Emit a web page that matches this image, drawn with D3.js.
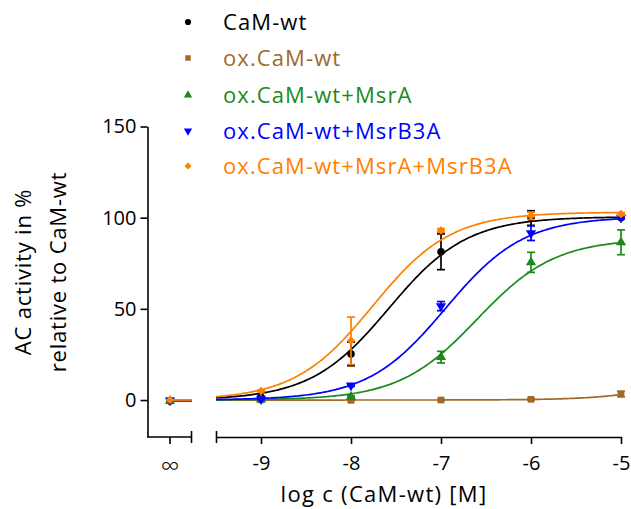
<!DOCTYPE html>
<html><head><meta charset="utf-8">
<script src="https://cdn.jsdelivr.net/npm/d3@7"></script>
<style>
body{margin:0;background:#fff;}
svg text{font-family:"Open Sans",sans-serif;}
</style></head>
<body><svg id="c" width="631" height="509"></svg>
<script>
// ---- data ----
const logConc = [-9, -8, -7, -6, -5];
const xTickLabels = ["-9", "-8", "-7", "-6", "-5"];
const yTicks = [0, 50, 100, 150];
const seriesNames = ["CaM-wt", "ox.CaM-wt", "ox.CaM-wt+MsrA", "ox.CaM-wt+MsrB3A", "ox.CaM-wt+MsrA+MsrB3A"];
const seriesColors = ["#000000", "#a0692a", "#1a8a1a", "#0000ff", "#ff8000"];
const seriesSymbols = ["circle", "square", "triangle", "triangleDown", "diamond"];
// values at log c = -9..-5
const camWt        = [1.5, 25.3, 81.3, 99.8, 100];
const camWtErr     = [0.5, 6.5, 9.8, 4.0, 0.5];
const oxCamWt      = [0.1, -0.2, 0.0, 0.4, 3.3];
const oxCamWtErr   = [0.3, 0.3, 0.3, 0.5, 1.5];
const oxMsrA       = [0.2, 1.8, 23.5, 75.5, 86.5];
const oxMsrAErr    = [0.3, 0.5, 3.2, 5.5, 6.8];
const oxMsrB3A     = [0.5, 8.0, 51.5, 91.5, 100];
const oxMsrB3AErr  = [0.3, 0.5, 2.5, 4.0, 0.5];
const oxBoth       = [5.0, 32.5, 93.0, 101.0, 102.0];
const oxBothErr    = [0.5, 13.0, 1.0, 2.0, 0.8];
// value without CaM (log c = -infinity)
const zeroConc     = [-0.5, -0.3, -0.6, -0.2, 0.0];
// fitted sigmoid parameters [bottom, top, logEC50, hill]
const fitParams = [
  [0, 100.5, -7.58, 1.0],
  [0, 100, -3.5, 1.0],
  [0, 88.5, -6.60, 1.0],
  [0, 100.5, -6.95, 1.0],
  [0, 103, -7.76, 1.0]
];
const seriesValues = [camWt, oxCamWt, oxMsrA, oxMsrB3A, oxBoth];
const seriesErrors = [camWtErr, oxCamWtErr, oxMsrAErr, oxMsrB3AErr, oxBothErr];

// ---- chart ----
const svg = d3.select("#c");
const x = d3.scaleLinear().domain([-9.5, -5]).range([216, 621]);
const xInf = 170;
const y = d3.scaleLinear().domain([-20, 150]).range([436.5, 126.5]);
const axisW = 1.6;

// y axis
const yAxis = svg.append("g").attr("transform", "translate(147.5,0)")
  .call(d3.axisLeft(y).tickValues(yTicks).tickSize(7).tickSizeOuter(0));
yAxis.select(".domain").attr("stroke-width", axisW);
yAxis.selectAll(".tick line").attr("stroke-width", axisW);
yAxis.selectAll(".tick text").attr("font-size", 20).attr("fill", "#000").attr("dx", -1);

// x axis, right segment
const xAxis = svg.append("g").attr("transform", "translate(0,437)")
  .call(d3.axisBottom(x).tickValues(logConc).tickFormat((d, i) => xTickLabels[i]).tickSize(7).tickSizeOuter(0));
xAxis.select(".domain").attr("stroke-width", axisW);
xAxis.selectAll(".tick line").attr("stroke-width", axisW);
xAxis.selectAll(".tick text").attr("font-size", 20).attr("fill", "#000").attr("dy", "1.15em");
// x axis, left segment
const gl = svg.append("g").attr("stroke", "#000").attr("stroke-width", axisW);
gl.append("line").attr("x1", 147).attr("x2", 192).attr("y1", 437).attr("y2", 437);
gl.append("line").attr("x1", xInf).attr("x2", xInf).attr("y1", 437).attr("y2", 444);
gl.append("line").attr("x1", 191.5).attr("x2", 191.5).attr("y1", 431).attr("y2", 443);
gl.append("line").attr("x1", 216.5).attr("x2", 216.5).attr("y1", 431).attr("y2", 443);
svg.append("text").attr("x", xInf).attr("y", 475).attr("text-anchor", "middle")
  .attr("font-size", 26).attr("font-weight", 300).text("∞");

// axis titles
svg.append("text").attr("x", 384).attr("y", 502).attr("text-anchor", "middle")
  .attr("font-size", 22).attr("letter-spacing", 1.3).text("log c (CaM-wt) [M]");
const yt = svg.append("text").attr("transform", "translate(0,272) rotate(-90)")
  .attr("text-anchor", "middle").attr("font-size", 22).attr("letter-spacing", 0.8);
yt.append("tspan").attr("x", 0).attr("y", 31).text("AC activity in %");
yt.append("tspan").attr("x", 0).attr("y", 66).text("relative to CaM-wt");

function sym(name, size) {
  const m = {circle: d3.symbolCircle, square: d3.symbolSquare, triangle: d3.symbolTriangle,
             triangleDown: d3.symbolTriangle, diamond: d3.symbolSquare};
  return d3.symbol().type(m[name]).size(size)();
}
function rot(name) {
  return name === "triangleDown" ? " rotate(180)" : name === "diamond" ? " rotate(45)" : "";
}

const curveXs = d3.range(-9.5, -4.999, 0.02);
const line = d3.line().x(d => x(d[0])).y(d => y(d[1])).curve(d3.curveLinear);

seriesNames.forEach((name, si) => {
  const col = seriesColors[si];
  const [b, t, ec, h] = fitParams[si];
  const f = v => b + (t - b) / (1 + Math.pow(10, (ec - v) * h));
  const g = svg.append("g");
  g.append("path").attr("d", line(curveXs.map(v => [v, f(v)])))
    .attr("fill", "none").attr("stroke", col).attr("stroke-width", 1.7);
  // infinity segment line
  g.append("line").attr("x1", xInf - 3).attr("x2", 192).attr("y1", y(zeroConc[si])).attr("y2", y(zeroConc[si]))
    .attr("stroke", col).attr("stroke-width", 1.7);
  // error bars
  seriesValues[si].forEach((v, i) => {
    const e = seriesErrors[si][i];
    const cx = x(logConc[i]);
    const eg = g.append("g").attr("stroke", col).attr("stroke-width", 1.7);
    eg.append("line").attr("x1", cx).attr("x2", cx).attr("y1", y(v - e)).attr("y2", y(v + e));
    eg.append("line").attr("x1", cx - 4).attr("x2", cx + 4).attr("y1", y(v - e)).attr("y2", y(v - e));
    eg.append("line").attr("x1", cx - 4).attr("x2", cx + 4).attr("y1", y(v + e)).attr("y2", y(v + e));
  });
  const pts = seriesValues[si].map((v, i) => [x(logConc[i]), y(v)]).concat([[xInf, y(zeroConc[si])]]);
  g.selectAll("path.pt").data(pts).join("path").attr("class", "pt")
    .attr("d", sym(seriesSymbols[si], seriesSymbols[si] === "diamond" ? 36 : 45))
    .attr("transform", d => `translate(${d[0]},${d[1]})${rot(seriesSymbols[si])}`)
    .attr("fill", col);
});

// legend
const legY = [22, 58, 95, 131, 166];
seriesNames.forEach((name, si) => {
  const col = seriesColors[si];
  svg.append("path").attr("d", sym(seriesSymbols[si], seriesSymbols[si] === "diamond" ? 24 : 30))
    .attr("transform", `translate(188,${legY[si]})${rot(seriesSymbols[si])}`)
    .attr("fill", col);
  svg.append("text").attr("x", 223).attr("y", legY[si]).attr("dy", "0.36em")
    .attr("font-size", 22).attr("letter-spacing", 1.1).attr("fill", col).text(name);
});
</script></body></html>
